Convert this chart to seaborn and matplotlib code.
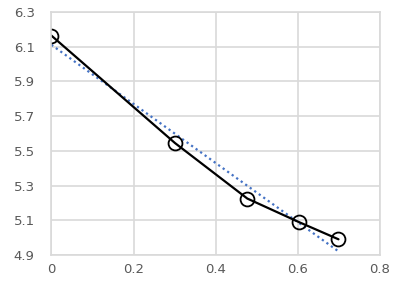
import numpy as np
import pandas as pd
import matplotlib
matplotlib.use('Agg')
import matplotlib.pyplot as plt
import seaborn as sns

# log10 of 1..5 against measured values
x_vals = [0.0, 0.301, 0.477, 0.602, 0.699]
y_vals = [6.165, 5.545, 5.225, 5.09, 4.99]
x_ticks = [0, 0.2, 0.4, 0.6, 0.8]
y_ticks = [4.9, 5.1, 5.3, 5.5, 5.7, 5.9, 6.1, 6.3]

df = pd.DataFrame({'x': x_vals, 'y': y_vals})

sns.set_style('white')
plt.rcParams['font.family'] = ['DejaVu Sans']

fig = plt.figure(figsize=(3.95, 2.89), dpi=100)
ax = fig.add_axes([0.13, 0.118, 0.832, 0.84])

# trendline (linear fit), dotted blue
sns.regplot(data=df, x='x', y='y', ax=ax, scatter=False, ci=None, truncate=True,
            line_kws={'color': '#4472c4', 'linestyle': (0, (1, 1.5)), 'linewidth': 1.6})

sns.lineplot(data=df, x='x', y='y', ax=ax, color='black', linewidth=1.6,
             marker='o', markersize=10, markerfacecolor='none',
             markeredgecolor='black', markeredgewidth=1.3)

ax.set_xlim(0, 0.8)
ax.set_ylim(4.9, 6.3)
ax.set_xticks(x_ticks)
ax.set_xticklabels(['0', '0.2', '0.4', '0.6', '0.8'])
ax.set_yticks(y_ticks)
ax.set_yticklabels([f'{v:.1f}' for v in y_ticks])
ax.grid(True, color='#d9d9d9', linewidth=1.2)
ax.set_axisbelow(True)
for s in ax.spines.values():
    s.set_color('#d9d9d9')
    s.set_linewidth(1.2)
ax.tick_params(axis='both', length=0, labelsize=9.5, colors='#595959')
ax.tick_params(axis='y', pad=12)
ax.tick_params(axis='x', pad=6)
ax.set_xlabel('')
ax.set_ylabel('')

fig.savefig('out.png', dpi=100)
